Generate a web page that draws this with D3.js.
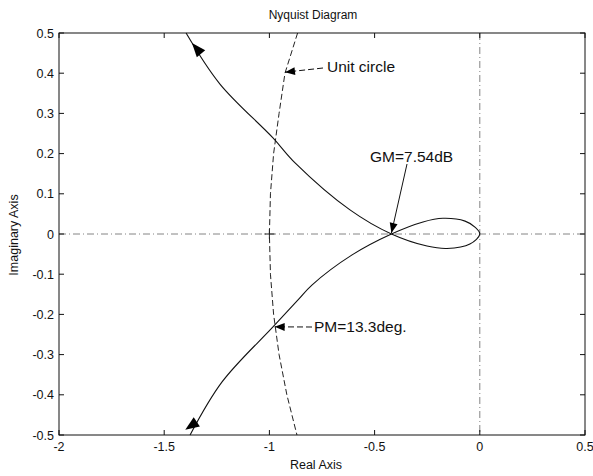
<!DOCTYPE html>
<html>
<head>
<meta charset="utf-8">
<script src="https://cdnjs.cloudflare.com/ajax/libs/d3/7.8.5/d3.min.js"></script>
<style>
  body { margin: 0; background: #fff; }
  text { font-family: "Liberation Sans", Arial, sans-serif; fill: #111; }
</style>
</head>
<body>
<svg id="app"></svg>
<script>
// nyquist curve (bottom-left -> crossing -> loop -> crossing -> top-left)
const nyqRe = [-1.377, -1.225, -0.983, -0.864, -0.798, -0.607, -0.42, -0.270, -0.175, -0.070, -0.023, 0.0,
               -0.047, -0.156, -0.251, -0.42, -0.617, -0.878, -0.983, -1.235, -1.396];
const nyqIm = [-0.5, -0.368, -0.231, -0.164, -0.127, -0.052, 0.0, 0.030, 0.039, 0.032, 0.017, 0.0,
               -0.025, -0.036, -0.030, 0.0, 0.060, 0.177, 0.239, 0.373, 0.5];

// unit circle polyline as drawn
const circleRe = [-0.866, -0.926, -0.954, -0.980, -0.995, -1.0, -0.995, -0.980, -0.954, -0.917, -0.869];
const circleIm = [0.5, 0.4, 0.3, 0.2, 0.1, 0.0, -0.1, -0.2, -0.3, -0.4, -0.5];

const xTicks = [-2, -1.5, -1, -0.5, 0, 0.5];
const xTickLabels = ["-2", "-1.5", "-1", "-0.5", "0", "0.5"];
const yTicks = [-0.5, -0.4, -0.3, -0.2, -0.1, 0, 0.1, 0.2, 0.3, 0.4, 0.5];
const yTickLabels = ["-0.5", "-0.4", "-0.3", "-0.2", "-0.1", "0", "0.1", "0.2", "0.3", "0.4", "0.5"];

const W = 593, H = 476;
const box = {left: 59, right: 585, top: 33, bottom: 435};

const svg = d3.select("#app").attr("width", W).attr("height", H);

const x = d3.scaleLinear().domain([-2, 0.5]).range([box.left, box.right]);
const y = d3.scaleLinear().domain([-0.5, 0.5]).range([box.bottom, box.top]);

const plot = svg.append("g");

// dash-dot zero lines
plot.append("line")
    .attr("x1", box.left).attr("x2", box.right)
    .attr("y1", y(0)).attr("y2", y(0))
    .attr("stroke", "#666").attr("stroke-width", 0.8)
    .attr("stroke-dasharray", "7,3,1,3");
plot.append("line")
    .attr("x1", x(0)).attr("x2", x(0))
    .attr("y1", box.top).attr("y2", box.bottom)
    .attr("stroke", "#666").attr("stroke-width", 0.8)
    .attr("stroke-dasharray", "7,3,1,3");

// critical point marker
plot.append("path")
    .attr("d", `M ${x(-1) - 5} ${y(0)} H ${x(-1) + 5} M ${x(-1)} ${y(0) - 5} V ${y(0) + 5}`)
    .attr("stroke", "#222").attr("stroke-width", 1);

const line = d3.line().x(d => x(d[0])).y(d => y(d[1]));

// unit circle
plot.append("path")
    .attr("d", line(circleRe.map((v, i) => [v, circleIm[i]])))
    .attr("fill", "none")
    .attr("stroke", "#222").attr("stroke-width", 1)
    .attr("stroke-dasharray", "6,3");

// nyquist curve
plot.append("path")
    .attr("d", line.curve(d3.curveCatmullRom.alpha(0.5))(nyqRe.map((v, i) => [v, nyqIm[i]])))
    .attr("fill", "none")
    .attr("stroke", "#111").attr("stroke-width", 1.1);

function arrowHead(tx, ty, fx, fy, len, half) {
    const dx = tx - fx, dy = ty - fy;
    const m = Math.sqrt(dx * dx + dy * dy);
    const ux = dx / m, uy = dy / m;
    const bx = tx - ux * len, by = ty - uy * len;
    svg.append("path")
        .attr("d", `M ${tx} ${ty} L ${bx - uy * half} ${by + ux * half} L ${bx + uy * half} ${by - ux * half} Z`)
        .attr("fill", "#000");
}

// direction arrows on the curve
arrowHead(x(-1.368), y(0.475), x(-1.30), y(0.433), 14, 5.5);
arrowHead(x(-1.400), y(-0.487), x(-1.33), y(-0.462), 14, 5.5);

// annotations
function annotate(label, tx, ty, sx, sy, lx, ly, dashed) {
    svg.append("line")
        .attr("x1", sx).attr("y1", sy)
        .attr("x2", tx).attr("y2", ty)
        .attr("stroke", "#111").attr("stroke-width", 1)
        .attr("stroke-dasharray", dashed ? "6,3" : null);
    arrowHead(tx, ty, sx, sy, 10, 4);
    svg.append("text")
        .attr("x", lx).attr("y", ly)
        .attr("font-size", 15.5)
        .text(label);
}
annotate("Unit circle", x(-0.926), y(0.4) - 1, 323, 68, 327, 72, true);
annotate("GM=7.54dB", x(-0.42), y(0) - 1, 407, 164, 370, 162, false);
annotate("PM=13.3deg.", x(-0.975), y(-0.231), 312, 327, 314, 332, true);

// axes box
svg.append("rect")
    .attr("x", box.left).attr("y", box.top)
    .attr("width", box.right - box.left).attr("height", box.bottom - box.top)
    .attr("fill", "none").attr("stroke", "#111").attr("stroke-width", 1);

// ticks inward on all sides
const tl = 5;
const tickG = svg.append("g").attr("stroke", "#111").attr("stroke-width", 1);
xTicks.forEach(t => {
    tickG.append("line").attr("x1", x(t)).attr("x2", x(t)).attr("y1", box.bottom).attr("y2", box.bottom - tl);
    tickG.append("line").attr("x1", x(t)).attr("x2", x(t)).attr("y1", box.top).attr("y2", box.top + tl);
});
yTicks.forEach(t => {
    tickG.append("line").attr("y1", y(t)).attr("y2", y(t)).attr("x1", box.left).attr("x2", box.left + tl);
    tickG.append("line").attr("y1", y(t)).attr("y2", y(t)).attr("x1", box.right).attr("x2", box.right - tl);
});

// tick labels
xTicks.forEach((t, i) => {
    svg.append("text")
        .attr("x", x(t)).attr("y", 451)
        .attr("text-anchor", "middle")
        .attr("font-size", 12.5)
        .text(xTickLabels[i]);
});
yTicks.forEach((t, i) => {
    svg.append("text")
        .attr("x", box.left - 5).attr("y", y(t) + 4.5)
        .attr("text-anchor", "end")
        .attr("font-size", 12.5)
        .text(yTickLabels[i]);
});

// title and axis labels
svg.append("text")
    .attr("x", 313).attr("y", 19)
    .attr("text-anchor", "middle")
    .attr("font-size", 12)
    .text("Nyquist Diagram");
svg.append("text")
    .attr("x", 316).attr("y", 469)
    .attr("text-anchor", "middle")
    .attr("font-size", 12.5)
    .text("Real Axis");
svg.append("text")
    .attr("transform", `translate(18, 235) rotate(-90)`)
    .attr("text-anchor", "middle")
    .attr("font-size", 12.5)
    .text("Imaginary Axis");
</script>
</body>
</html>
